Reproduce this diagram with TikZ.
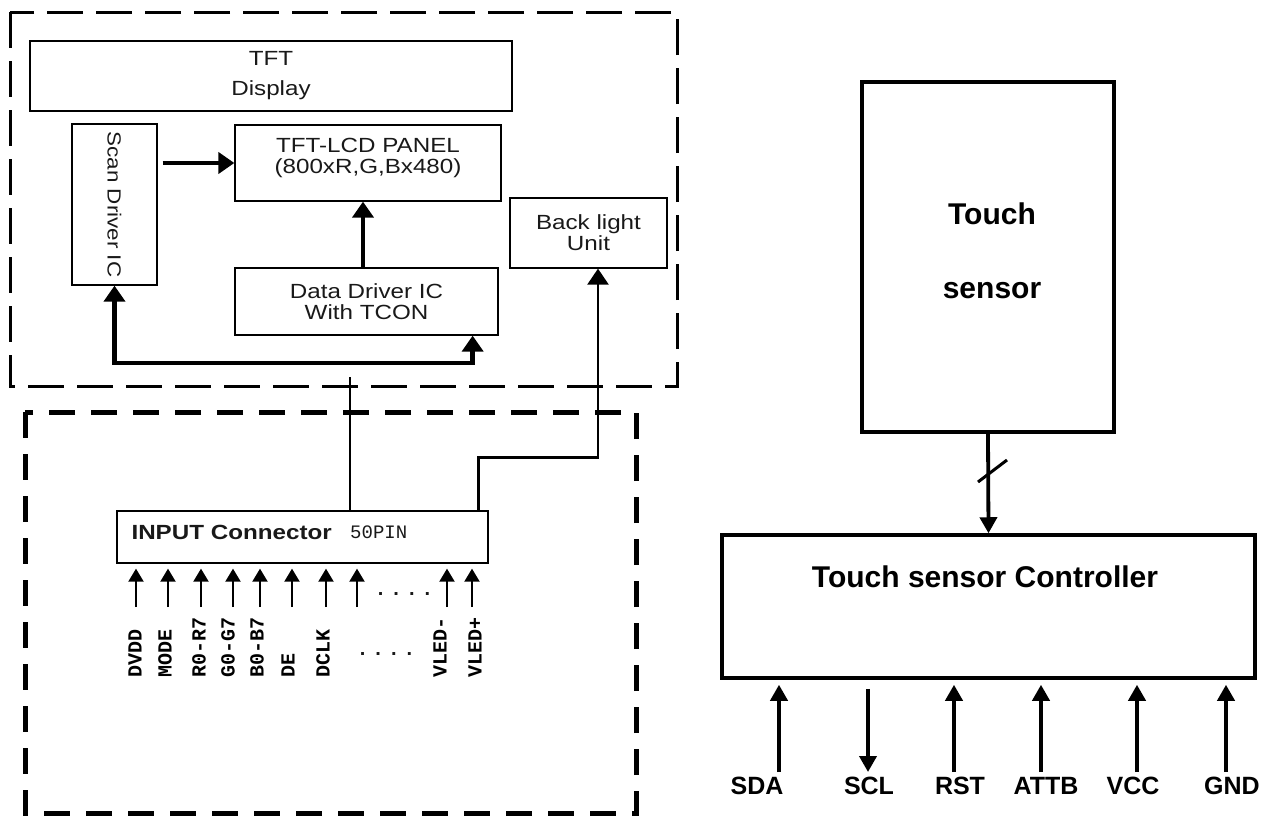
\documentclass[tikz,border=0pt]{standalone}
\usepackage{fontspec}
\usepackage{graphicx}
\setmainfont{Liberation Sans}
\newfontfamily\lcdfont[FakeStretch=1.18]{Liberation Sans}
\newfontfamily\pinfont{Liberation Mono}
\usetikzlibrary{arrows.meta,calc}

\begin{document}
\begin{tikzpicture}[
  x=1pt, y=-1pt,
  blk/.style={draw, line width=1.3pt, inner sep=0pt, align=center, text=black!90,
    font=\lcdfont\fontsize{20.5}{21}\selectfont},
  txt/.style={inner sep=0pt, align=center, text=black!90, font=\lcdfont\fontsize{20.5}{21}\selectfont},
  tbox/.style={draw, line width=3.5pt, inner sep=0pt, align=center, font=\bfseries\fontsize{30}{36}\selectfont},
  fat/.style={line width=4.5pt, -{Triangle[length=16pt,width=21pt]}},
  fatboth/.style={line width=4.5pt, {Triangle[length=16pt,width=21pt]}-{Triangle[length=16pt,width=21pt]}},
  wire/.style={line width=2.6pt},
  pin/.style={line width=2pt, -{Triangle[length=13pt,width=15pt]}},
  sig/.style={line width=3.8pt, -{Triangle[length=16pt,width=17pt]}},
  pinlbl/.style={rotate=90, anchor=west, inner sep=0pt, font=\pinfont\bfseries\fontsize{20}{20}\selectfont},
  siglbl/.style={inner sep=0pt, font=\bfseries\fontsize{25}{25}\selectfont}
]
\useasboundingbox (0,0) rectangle (1278,819);

% dashed frames
\draw[line width=3pt, dash pattern=on 36pt off 13pt] (10,12) rectangle (677,386);
\draw[line width=5pt, dash pattern=on 26pt off 16pt] (25,412) rectangle (636,813);

% display module
\node[blk, minimum width=482, minimum height=70] (tft) at (271,76) {TFT\\[9pt]Display};
\node[blk, minimum width=85, minimum height=161, font=\lcdfont\fontsize{19}{21}\selectfont] (scan) at (114.5,204.5) {\rotatebox{-90}{Scan Driver IC}};
\node[blk, minimum width=266, minimum height=76] (panel) at (368,163) {};
\node[txt, anchor=north] (paneltxt) at ([yshift=-14pt]panel.north) {TFT-LCD PANEL\\(800xR,G,Bx480)};
\node[blk, minimum width=157, minimum height=70] (bl) at (588.5,233) {Back light\\Unit};
\node[blk, minimum width=263, minimum height=67] (dd) at (366.5,301.5) {Data Driver IC\\With TCON};

\draw[fat] ([xshift=5pt]scan.east |- panel.west) -- (panel.west);
\draw[fat] ([xshift=-3.5pt]dd.north) -- ([xshift=-3.5pt]dd.north |- panel.south);
\coordinate (bus) at (300,363);
\draw[fatboth] (scan.south) |- (bus) -| ([xshift=-26pt]dd.south east);

% input connector
\node[blk, minimum width=371, minimum height=52] (conn) at (302.5,537) {};
\node[txt, anchor=west, font=\lcdfont\bfseries\fontsize{20.5}{21}\selectfont] (conntxt) at ([xshift=15pt, yshift=5pt]conn.west) {INPUT Connector};
\node[txt, anchor=west, font=\pinfont\fontsize{19}{21}\selectfont] (pintxt) at (350,532) {50PIN};

\coordinate (vtop) at (350,377);
\draw[wire] (vtop) -- (vtop |- conn.north);
\draw[wire, -{Triangle[length=16pt,width=21pt]}] ([xshift=-10pt]conn.north east) -- ++(0,-53) -| ([xshift=9.5pt]bl.south);

\foreach \px [count=\i] in {136,168,201,233,260,292,326,357,447,472} {
  \coordinate (p\i) at (\px,607);
  \draw[pin] (p\i) -- ([yshift=-5pt]p\i |- conn.south);
}
\foreach \px/\nm [count=\i] in {135/DVDD,165/MODE,199/R0-R7,228/G0-G7,257/B0-B7,288/DE,323/DCLK,440/VLED-,475/VLED+}
  \node[pinlbl] (lbl\i) at (\px,678) {\nm};
\node[txt, font=\bfseries\fontsize{20}{20}\selectfont] (dots1) at (404,594) {.\hspace{10pt}.\hspace{10pt}.\hspace{10pt}.};
\node[txt, font=\bfseries\fontsize{20}{20}\selectfont] (dots2) at (386,654) {.\hspace{10pt}.\hspace{10pt}.\hspace{10pt}.};

% touch part
\node[tbox, minimum width=252, minimum height=350] (touch) at (988,257) {};
\node[inner sep=0pt, align=center, font=\bfseries\fontsize{30}{36}\selectfont] (touchtxt) at (992,251) {Touch\\[38pt]sensor};
\node[tbox, minimum width=533, minimum height=143] (ctrl) at (988.5,606.5) {};
\node[inner sep=0pt, font=\bfseries\fontsize{30}{36}\selectfont] (ctrltxt) at (985,577) {Touch sensor Controller};

\draw[sig] (touch.south) -- (ctrl.north);
\coordinate (slash) at (990,471);
\draw[line width=3pt] ($(slash)+(-12,11)$) -- ($(slash)+(17,-11)$);

\foreach \i/\nm/\lx/\ax in {1/SDA/757/779, 2/SCL/869/868, 3/RST/960/954, 4/ATTB/1046/1041, 5/VCC/1133/1137, 6/GND/1232/1226} {
  \node[siglbl] (s\i) at (\lx,786) {\nm};
  \coordinate (a\i) at (\ax,772);
}
\foreach \i in {1,3,4,5,6}
  \draw[sig] (a\i) -- ([yshift=-5pt]a\i |- ctrl.south);
\draw[sig] ([yshift=-9pt]a2 |- ctrl.south) -- (a2);
\end{tikzpicture}
\end{document}
